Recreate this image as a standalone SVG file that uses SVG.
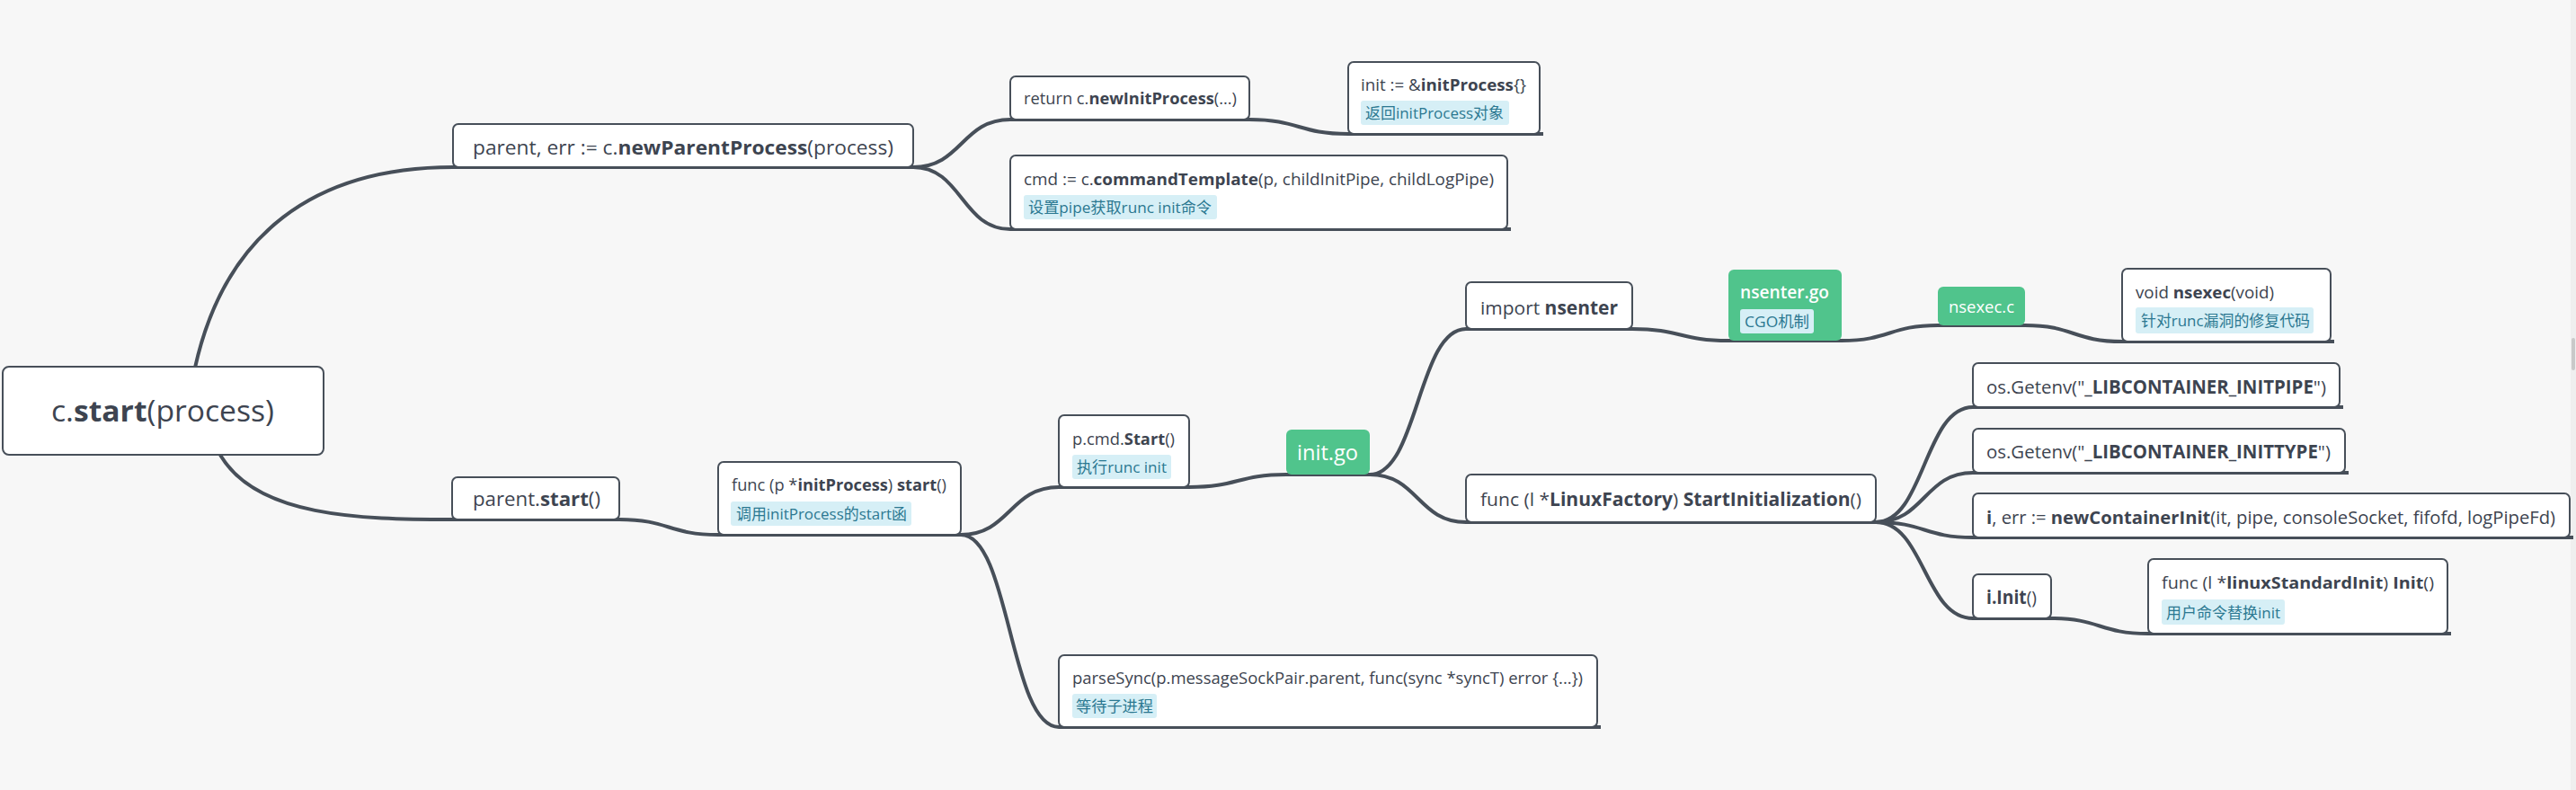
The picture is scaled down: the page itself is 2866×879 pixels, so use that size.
<svg xmlns="http://www.w3.org/2000/svg" width="2866" height="879" viewBox="0 0 2866 879">
<style>
.bg{fill:#f7f7f7}
.n{fill:#ffffff;stroke:#474f59;stroke-width:2}
.g{fill:#50c48c}
.c{fill:none;stroke:#474f59;stroke-width:4;stroke-linecap:butt}
.t{font-family:"Open Sans","Noto Sans CJK SC",sans-serif;fill:#3d4450}
.s18{font-size:18.5px}
.s21{font-size:20.5px}
.s22{font-size:22px}
.b{font-weight:bold}
.w{font-family:"Open Sans","Noto Sans CJK SC",sans-serif;fill:#ffffff}
.lb{fill:#d6eff6}
.lt{font-family:"Open Sans","Noto Sans CJK SC",sans-serif;font-size:17px;fill:#2b7891}
</style>
<rect class="bg" x="0" y="0" width="2866" height="879"/>
<rect x="2860" y="0" width="6" height="879" fill="#efefef"/>
<rect x="2861" y="376" width="4" height="36" rx="2" fill="#c9c9c9"/>

<g id="connectors">
  <path class="c" d="M217,409 C250,260 350,186 504,186 L1016,186"/>
  <path class="c" d="M245,506 C285,575 400,578 503,578 L689,578"/>
  <path class="c" d="M1016,186 C1070,186 1070,133 1124,133 L1390,133"/>
  <path class="c" d="M1016,186 C1070,186 1070,255 1124,255 L1681,255"/>
  <path class="c" d="M1390,133 C1445,133 1445,149 1500,149 L1717,149"/>
  <path class="c" d="M689,578 C744,578 744,595 799,595 L1069,595"/>
  <path class="c" d="M1069,595 C1123.5,595 1123.5,542 1178,542 L1323,542"/>
  <path class="c" d="M1069,595 C1123.5,595 1123.5,809 1178,809 L1781,809"/>
  <path class="c" d="M1323,542 C1377,542 1377,528 1431,528 L1524,528"/>
  <path class="c" d="M1524,528 C1577.5,528 1577.5,366 1631,366 L1816,366"/>
  <path class="c" d="M1524,528 C1577.5,528 1577.5,581 1631,581 L2087,581"/>
  <path class="c" d="M1816,366 C1869.5,366 1869.5,379 1923,379 L2049,379"/>
  <path class="c" d="M2049,379 C2102.5,379 2102.5,362 2156,362 L2253,362"/>
  <path class="c" d="M2253,362 C2307,362 2307,380 2361,380 L2597,380"/>
  <path class="c" d="M2087,581 C2141,581 2141,453 2195,453 L2607,453"/>
  <path class="c" d="M2087,581 C2141,581 2141,526 2195,526 L2613,526"/>
  <path class="c" d="M2087,581 C2141,581 2141,598 2195,598 L2863,598"/>
  <path class="c" d="M2087,581 C2141,581 2141,688 2195,688 L2282,688"/>
  <path class="c" d="M2282,688 C2336,688 2336,705 2390,705 L2727,705"/>
</g>

<g id="root">
  <rect class="n" x="3" y="408" width="357" height="98" rx="7"/>
  <text class="t" x="57" y="469" font-size="33" textLength="248" lengthAdjust="spacingAndGlyphs">c.<tspan class="b">start</tspan>(process)</text>
</g>

<g id="newParentProcess">
  <rect class="n" x="504" y="138" width="512" height="48" rx="6"/>
  <text class="t s22" x="526" y="172" textLength="468" lengthAdjust="spacingAndGlyphs">parent, err := c.<tspan class="b">newParentProcess</tspan>(process)</text>
</g>

<g id="newInitProcess">
  <rect class="n" x="1124" y="85" width="266" height="48" rx="6"/>
  <text class="t s18" x="1139" y="116" textLength="237" lengthAdjust="spacingAndGlyphs">return c.<tspan class="b">newInitProcess</tspan>(...)</text>
</g>

<g id="initProcessObj">
  <rect class="n" x="1500" y="69" width="213" height="80" rx="6"/>
  <text class="t s18" x="1514" y="101" textLength="184" lengthAdjust="spacingAndGlyphs">init := &amp;<tspan class="b">initProcess</tspan>{}</text>
  <rect class="lb" x="1514" y="112" width="165" height="27" rx="3"/>
  <text class="lt" x="1519" y="132" textLength="154" lengthAdjust="spacingAndGlyphs">返回initProcess对象</text>
</g>

<g id="commandTemplate">
  <rect class="n" x="1124" y="173" width="553" height="82" rx="6"/>
  <text class="t s18" x="1139" y="206" textLength="523" lengthAdjust="spacingAndGlyphs">cmd := c.<tspan class="b">commandTemplate</tspan>(p, childInitPipe, childLogPipe)</text>
  <rect class="lb" x="1139" y="217" width="215" height="27" rx="3"/>
  <text class="lt" x="1144" y="237" textLength="204" lengthAdjust="spacingAndGlyphs">设置pipe获取runc init命令</text>
</g>

<g id="parentStart">
  <rect class="n" x="503" y="531" width="186" height="47" rx="6"/>
  <text class="t s22" x="526" y="563" textLength="142" lengthAdjust="spacingAndGlyphs">parent.<tspan class="b">start</tspan>()</text>
</g>

<g id="initProcessStart">
  <rect class="n" x="799" y="514" width="270" height="81" rx="6"/>
  <text class="t s18" x="814" y="546" textLength="239" lengthAdjust="spacingAndGlyphs">func (p *<tspan class="b">initProcess</tspan>) <tspan class="b">start</tspan>()</text>
  <rect class="lb" x="813" y="558" width="201" height="27" rx="3"/>
  <text class="lt" x="819" y="578" textLength="190" lengthAdjust="spacingAndGlyphs">调用initProcess的start函</text>
</g>

<g id="cmdStart">
  <rect class="n" x="1178" y="462" width="145" height="80" rx="6"/>
  <text class="t s18" x="1193" y="495" textLength="114" lengthAdjust="spacingAndGlyphs">p.cmd.<tspan class="b">Start</tspan>()</text>
  <rect class="lb" x="1193" y="506" width="110" height="27" rx="3"/>
  <text class="lt" x="1198" y="526" textLength="100" lengthAdjust="spacingAndGlyphs">执行runc init</text>
</g>

<g id="initGo">
  <rect class="g" x="1431" y="478" width="93" height="50" rx="6"/>
  <text class="w" x="1443" y="512" font-size="24" textLength="68" lengthAdjust="spacingAndGlyphs">init.go</text>
</g>

<g id="importNsenter">
  <rect class="n" x="1631" y="314" width="185" height="52" rx="6"/>
  <text class="t s21" x="1647" y="350" textLength="153" lengthAdjust="spacingAndGlyphs">import <tspan class="b">nsenter</tspan></text>
</g>

<g id="nsenterGo">
  <rect class="g" x="1923" y="300" width="126" height="79" rx="6"/>
  <text class="w" x="1936" y="332" font-size="19.5" font-weight="600" textLength="99" lengthAdjust="spacingAndGlyphs">nsenter.go</text>
  <rect class="lb" x="1936" y="344" width="82" height="27" rx="3"/>
  <text class="lt" x="1941" y="364" textLength="72" lengthAdjust="spacingAndGlyphs">CGO机制</text>
</g>

<g id="nsexecC">
  <rect class="g" x="2156" y="319" width="97" height="43" rx="6"/>
  <text class="w" x="2168" y="348" font-size="19" textLength="73" lengthAdjust="spacingAndGlyphs">nsexec.c</text>
</g>

<g id="nsexecFunc">
  <rect class="n" x="2361" y="299" width="232" height="81" rx="6"/>
  <text class="t s18" x="2376" y="332" textLength="154" lengthAdjust="spacingAndGlyphs">void <tspan class="b">nsexec</tspan>(void)</text>
  <rect class="lb" x="2376" y="342" width="198" height="29" rx="3"/>
  <text class="lt" x="2382" y="363" textLength="188" lengthAdjust="spacingAndGlyphs">针对runc漏洞的修复代码</text>
</g>

<g id="startInitialization">
  <rect class="n" x="1631" y="528" width="456" height="53" rx="6"/>
  <text class="t s21" x="1647" y="563" textLength="424" lengthAdjust="spacingAndGlyphs">func (l *<tspan class="b">LinuxFactory</tspan>) <tspan class="b">StartInitialization</tspan>()</text>
</g>

<g id="getenvInitPipe">
  <rect class="n" x="2195" y="404" width="408" height="49" rx="6"/>
  <text class="t s21" x="2210" y="438" textLength="378" lengthAdjust="spacingAndGlyphs">os.Getenv("<tspan class="b">_LIBCONTAINER_INITPIPE</tspan>")</text>
</g>

<g id="getenvInitType">
  <rect class="n" x="2195" y="477" width="414" height="49" rx="6"/>
  <text class="t s21" x="2210" y="510" textLength="383" lengthAdjust="spacingAndGlyphs">os.Getenv("<tspan class="b">_LIBCONTAINER_INITTYPE</tspan>")</text>
</g>

<g id="newContainerInit">
  <rect class="n" x="2195" y="549" width="664" height="49" rx="6"/>
  <text class="t" x="2210" y="583" font-size="20" textLength="633" lengthAdjust="spacingAndGlyphs"><tspan class="b">i</tspan>, err := <tspan class="b">newContainerInit</tspan>(it, pipe, consoleSocket, fifofd, logPipeFd)</text>
</g>

<g id="iInit">
  <rect class="n" x="2195" y="639" width="87" height="49" rx="6"/>
  <text class="t s21" x="2210" y="672" textLength="56" lengthAdjust="spacingAndGlyphs"><tspan class="b">i.Init</tspan>()</text>
</g>

<g id="linuxStandardInit">
  <rect class="n" x="2390" y="622" width="333" height="83" rx="6"/>
  <text class="t s18" x="2405" y="655" textLength="303" lengthAdjust="spacingAndGlyphs">func (l *<tspan class="b">linuxStandardInit</tspan>) <tspan class="b">Init</tspan>()</text>
  <rect class="lb" x="2405" y="667" width="137" height="28" rx="3"/>
  <text class="lt" x="2410" y="688" textLength="127" lengthAdjust="spacingAndGlyphs">用户命令替换init</text>
</g>

<g id="parseSync">
  <rect class="n" x="1178" y="729" width="599" height="80" rx="6"/>
  <text class="t s18" x="1193" y="761" textLength="568" lengthAdjust="spacingAndGlyphs">parseSync(p.messageSockPair.parent, func(sync *syncT) error {...})</text>
  <rect class="lb" x="1193" y="772" width="94" height="27" rx="3"/>
  <text class="lt" x="1197" y="792" textLength="86" lengthAdjust="spacingAndGlyphs">等待子进程</text>
</g>
</svg>
